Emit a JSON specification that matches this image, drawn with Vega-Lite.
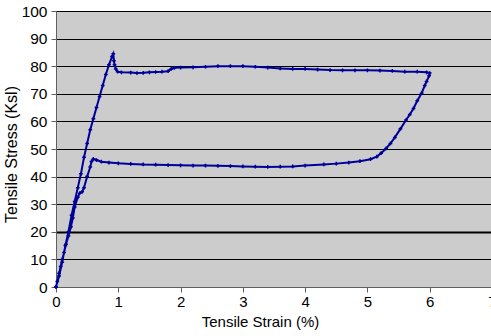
{
  "$schema": "https://vega.github.io/schema/vega-lite/v6.json",
  "width": 436,
  "height": 276,
  "autosize": {"type": "none"},
  "padding": {"left": 56, "top": 11, "right": 0, "bottom": 49},
  "background": "#ffffff",
  "config": {
    "view": {"fill": "#CCCCCC", "stroke": "#808080", "strokeWidth": 1},
    "font": "Liberation Sans"
  },
  "data": {
    "values": [
      {"i": 0, "strain": 0, "stress": 0},
      {"i": 1, "strain": 0.05, "stress": 4},
      {"i": 2, "strain": 0.1, "stress": 9},
      {"i": 3, "strain": 0.15, "stress": 15},
      {"i": 4, "strain": 0.2, "stress": 20},
      {"i": 5, "strain": 0.25, "stress": 26},
      {"i": 6, "strain": 0.3, "stress": 31},
      {"i": 7, "strain": 0.35, "stress": 36},
      {"i": 8, "strain": 0.4, "stress": 41},
      {"i": 9, "strain": 0.45, "stress": 47},
      {"i": 10, "strain": 0.5, "stress": 52},
      {"i": 11, "strain": 0.55, "stress": 57},
      {"i": 12, "strain": 0.6, "stress": 61},
      {"i": 13, "strain": 0.65, "stress": 65},
      {"i": 14, "strain": 0.7, "stress": 69},
      {"i": 15, "strain": 0.75, "stress": 73},
      {"i": 16, "strain": 0.8, "stress": 77},
      {"i": 17, "strain": 0.85, "stress": 80.5},
      {"i": 18, "strain": 0.9, "stress": 83.5},
      {"i": 19, "strain": 0.92, "stress": 84.5},
      {"i": 20, "strain": 0.93, "stress": 82},
      {"i": 21, "strain": 0.94, "stress": 80.5},
      {"i": 22, "strain": 0.96, "stress": 79},
      {"i": 23, "strain": 0.99, "stress": 78},
      {"i": 24, "strain": 1.05, "stress": 77.8},
      {"i": 25, "strain": 1.2, "stress": 77.7},
      {"i": 26, "strain": 1.3, "stress": 77.5},
      {"i": 27, "strain": 1.4, "stress": 77.6},
      {"i": 28, "strain": 1.5, "stress": 77.8},
      {"i": 29, "strain": 1.6, "stress": 77.9},
      {"i": 30, "strain": 1.7, "stress": 78},
      {"i": 31, "strain": 1.8, "stress": 78.2},
      {"i": 32, "strain": 1.85, "stress": 79},
      {"i": 33, "strain": 1.9, "stress": 79.4},
      {"i": 34, "strain": 2.0, "stress": 79.5},
      {"i": 35, "strain": 2.2, "stress": 79.6},
      {"i": 36, "strain": 2.4, "stress": 79.8},
      {"i": 37, "strain": 2.6, "stress": 80},
      {"i": 38, "strain": 2.8, "stress": 80},
      {"i": 39, "strain": 3.0, "stress": 80},
      {"i": 40, "strain": 3.2, "stress": 79.8},
      {"i": 41, "strain": 3.4, "stress": 79.5},
      {"i": 42, "strain": 3.6, "stress": 79.2},
      {"i": 43, "strain": 3.8, "stress": 79},
      {"i": 44, "strain": 4.0, "stress": 79},
      {"i": 45, "strain": 4.2, "stress": 78.8},
      {"i": 46, "strain": 4.4, "stress": 78.6},
      {"i": 47, "strain": 4.6, "stress": 78.5},
      {"i": 48, "strain": 4.8, "stress": 78.5},
      {"i": 49, "strain": 5.0, "stress": 78.5},
      {"i": 50, "strain": 5.2, "stress": 78.4},
      {"i": 51, "strain": 5.4, "stress": 78.3},
      {"i": 52, "strain": 5.6, "stress": 78},
      {"i": 53, "strain": 5.8, "stress": 78},
      {"i": 54, "strain": 5.95, "stress": 77.8},
      {"i": 55, "strain": 6.0, "stress": 77.5},
      {"i": 56, "strain": 5.99, "stress": 76.5},
      {"i": 57, "strain": 5.95, "stress": 74.5},
      {"i": 58, "strain": 5.92, "stress": 73},
      {"i": 59, "strain": 5.87, "stress": 70.2},
      {"i": 60, "strain": 5.8, "stress": 67.5},
      {"i": 61, "strain": 5.74, "stress": 64.7},
      {"i": 62, "strain": 5.68, "stress": 62.5},
      {"i": 63, "strain": 5.62, "stress": 60.5},
      {"i": 64, "strain": 5.53, "stress": 57.3},
      {"i": 65, "strain": 5.44, "stress": 54.2},
      {"i": 66, "strain": 5.37, "stress": 52},
      {"i": 67, "strain": 5.3, "stress": 50.2},
      {"i": 68, "strain": 5.22, "stress": 48.5},
      {"i": 69, "strain": 5.15, "stress": 47.2},
      {"i": 70, "strain": 5.05, "stress": 46.3},
      {"i": 71, "strain": 4.88, "stress": 45.6},
      {"i": 72, "strain": 4.7, "stress": 45.1},
      {"i": 73, "strain": 4.5, "stress": 44.7},
      {"i": 74, "strain": 4.3, "stress": 44.4},
      {"i": 75, "strain": 4.0, "stress": 44},
      {"i": 76, "strain": 3.8, "stress": 43.7},
      {"i": 77, "strain": 3.6, "stress": 43.6},
      {"i": 78, "strain": 3.4, "stress": 43.5},
      {"i": 79, "strain": 3.2, "stress": 43.6},
      {"i": 80, "strain": 3.0, "stress": 43.7},
      {"i": 81, "strain": 2.8, "stress": 43.8},
      {"i": 82, "strain": 2.6, "stress": 43.9},
      {"i": 83, "strain": 2.4, "stress": 44},
      {"i": 84, "strain": 2.2, "stress": 44},
      {"i": 85, "strain": 2.0, "stress": 44.1},
      {"i": 86, "strain": 1.8, "stress": 44.2},
      {"i": 87, "strain": 1.6, "stress": 44.3},
      {"i": 88, "strain": 1.4, "stress": 44.4},
      {"i": 89, "strain": 1.2, "stress": 44.6},
      {"i": 90, "strain": 1.0, "stress": 44.8},
      {"i": 91, "strain": 0.85, "stress": 45.1},
      {"i": 92, "strain": 0.73, "stress": 45.4},
      {"i": 93, "strain": 0.65, "stress": 46},
      {"i": 94, "strain": 0.6, "stress": 46.4},
      {"i": 95, "strain": 0.57, "stress": 45.5},
      {"i": 96, "strain": 0.55, "stress": 43.5},
      {"i": 97, "strain": 0.5, "stress": 40},
      {"i": 98, "strain": 0.45, "stress": 36},
      {"i": 99, "strain": 0.42, "stress": 34.5},
      {"i": 100, "strain": 0.38, "stress": 34},
      {"i": 101, "strain": 0.35, "stress": 32.5},
      {"i": 102, "strain": 0.3, "stress": 29},
      {"i": 103, "strain": 0.27, "stress": 25},
      {"i": 104, "strain": 0.24, "stress": 21.8},
      {"i": 105, "strain": 0.2, "stress": 18.5},
      {"i": 106, "strain": 0.16, "stress": 15.5},
      {"i": 107, "strain": 0.13, "stress": 12.5},
      {"i": 108, "strain": 0.1, "stress": 10},
      {"i": 109, "strain": 0.075, "stress": 7.4},
      {"i": 110, "strain": 0.05, "stress": 5},
      {"i": 111, "strain": 0.02, "stress": 2},
      {"i": 112, "strain": 0, "stress": 0}
    ]
  },
  "encoding": {
    "x": {
      "field": "strain", "type": "quantitative",
      "scale": {"domain": [0, 7], "nice": false, "zero": true},
      "axis": {
        "title": "Tensile Strain (%)", "values": [0, 1, 2, 3, 4, 5, 6, 7],
        "grid": false, "domainColor": "#606060", "tickColor": "#606060",
        "tickSize": 5, "labelFontSize": 15, "labelColor": "#000000",
        "labelPadding": 2, "titleFontSize": 15, "titleFontWeight": "normal",
        "titleColor": "#000000", "titlePadding": 5, "labelFlush": false,
        "titleX": 204
      }
    },
    "y": {
      "field": "stress", "type": "quantitative",
      "scale": {"domain": [0, 100], "nice": false},
      "axis": {
        "title": "Tensile Stress (Ksl)", "values": [0, 10, 20, 30, 40, 50, 60, 70, 80, 90, 100],
        "grid": true, "gridColor": "#000000",
        "gridWidth": {"condition": {"test": "datum.value === 20", "value": 2}, "value": 1},
        "gridOpacity": 1,
        "domainColor": "#606060", "tickColor": "#606060",
        "tickSize": 5, "labelFontSize": 15.5, "labelColor": "#000000",
        "labelPadding": 4, "titleFontSize": 16, "titleFontWeight": "normal",
        "titleColor": "#000000", "titlePadding": 2, "labelFlush": false,
        "titleY": 143
      }
    },
    "order": {"field": "i", "type": "quantitative"}
  },
  "layer": [
    {"mark": {"type": "line", "color": "#000099", "strokeWidth": 2}},
    {"mark": {"type": "point", "shape": "cross", "size": 14, "filled": true, "color": "#000099", "opacity": 1}}
  ]
}
